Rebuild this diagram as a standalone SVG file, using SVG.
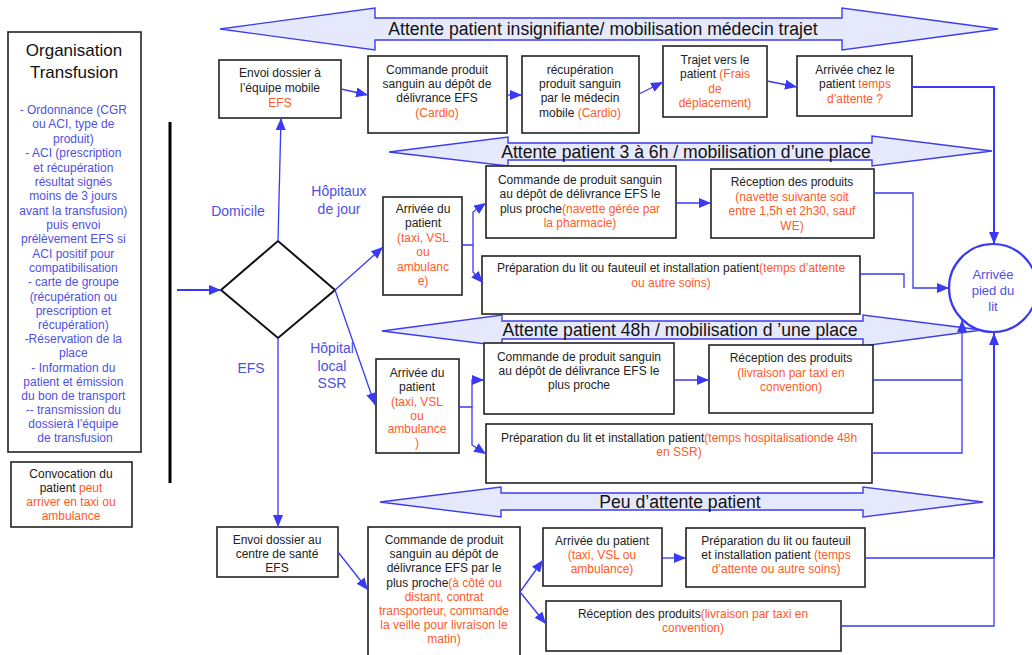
<svg xmlns="http://www.w3.org/2000/svg" width="1032" height="655" viewBox="0 0 1032 655">
<defs>
<style>
.t{font-family:"Liberation Sans",Arial,sans-serif;font-size:12px;fill:#222;text-anchor:middle}
.o{fill:#ff5a28}
.b{fill:#5050e0}
.lbl{font-family:"Liberation Sans",Arial,sans-serif;font-size:14px;fill:#5050e0;text-anchor:middle}
.ttl{font-family:"Liberation Sans",Arial,sans-serif;font-size:17px;fill:#111;text-anchor:middle}
.ban{font-family:"Liberation Sans",Arial,sans-serif;font-size:17.6px;fill:#111;text-anchor:middle}
.box{fill:#fff;stroke:#222;stroke-width:1.6}
.banner{fill:#e6e9fb;stroke:#3c3cf0;stroke-width:1.4}
.c{fill:none;stroke:#3a3af5;stroke-width:1.3}
.c2{fill:none;stroke:#3a3af5;stroke-width:2}
</style>
<marker id="ah" viewBox="0 0 12 10" refX="12" refY="5" markerWidth="12" markerHeight="10" markerUnits="userSpaceOnUse" orient="auto">
<path d="M0,0 L12,5 L0,10 z" fill="#3a3af5"/>
</marker>
</defs>
<rect width="1032" height="655" fill="#fff"/>

<g id="banners">
<path class="banner" d="M220,29 L375,8 L375,18 L842,18 L842,8 L998,29 L842,50 L842,40 L375,40 L375,50 Z"/>
<text class="ban" x="603" y="35">Attente patient insignifiante/ mobilisation médecin trajet</text>
<path class="banner" d="M389,152 L508,137 L508,143 L872,143 L872,136 L992,151 L872,166 L872,160 L508,160 L508,166 Z"/>
<text class="ban" x="686" y="158">Attente patient 3 à 6h / mobilisation d’une place</text>
<path class="banner" d="M382,331 L502,315 L502,321 L863,321 L863,315 L982,330 L863,346 L863,339 L502,339 L502,346 Z"/>
<text class="ban" x="680" y="336">Attente patient 48h / mobilisation d ’une place</text>
<path class="banner" d="M380,502 L501,487 L501,493 L863,493 L863,487 L983,502 L863,517 L863,510 L501,510 L501,517 Z"/>
<text class="ban" x="680" y="508">Peu d’attente patient</text>
</g>

<g id="organisation">
<rect class="box" x="8" y="32" width="133" height="420"/>
<text class="ttl" x="74" y="56">Organisation</text>
<text class="ttl" x="74" y="78">Transfusion</text>
<text class="t b" x="75">
<tspan x="75" y="114">- Ordonnance (CGR</tspan>
<tspan x="75" y="128">ou ACI, type de</tspan>
<tspan x="75" y="143">produit)</tspan>
<tspan x="75" y="157">- ACI (prescription</tspan>
<tspan x="75" y="172">et récupération</tspan>
<tspan x="75" y="186">résultat signés</tspan>
<tspan x="75" y="200">moins de 3 jours</tspan>
<tspan x="75" y="215">avant la transfusion)</tspan>
<tspan x="75" y="229">puis envoi</tspan>
<tspan x="75" y="243">prélèvement EFS si</tspan>
<tspan x="75" y="258">ACI positif pour</tspan>
<tspan x="75" y="272">compatibilisation</tspan>
<tspan x="75" y="286">- carte de groupe</tspan>
<tspan x="75" y="301">(récupération ou</tspan>
<tspan x="75" y="315">prescription et</tspan>
<tspan x="75" y="329">récupération)</tspan>
<tspan x="75" y="343">-Réservation de la</tspan>
<tspan x="75" y="357">place</tspan>
<tspan x="75" y="372">- Information du</tspan>
<tspan x="75" y="386">patient et émission</tspan>
<tspan x="75" y="400">du bon de transport</tspan>
<tspan x="75" y="414">-- transmission du</tspan>
<tspan x="75" y="428">dossierà l’équipe</tspan>
<tspan x="75" y="442">de transfusion</tspan>
</text>
</g>

<g id="convocation">
<rect class="box" x="11" y="462" width="121" height="65"/>
<text class="t"><tspan x="71" y="478">Convocation du</tspan><tspan x="71" y="492">patient <tspan class="o">peut</tspan></tspan><tspan class="o" x="71" y="506">arriver en taxi ou</tspan><tspan class="o" x="71" y="520">ambulance</tspan></text>
</g>

<g id="separator"><line x1="170" y1="122" x2="170" y2="483" stroke="#000" stroke-width="3"/></g>

<g id="decision">
<path d="M221,290 L278,241 L335,290 L278,338 Z" fill="#fff" stroke="#111" stroke-width="2"/>
</g>

<g id="labels">
<text class="lbl" x="238" y="216">Domicile</text>
<text class="lbl"><tspan x="339" y="196">Hôpitaux</tspan><tspan x="339" y="214">de jour</tspan></text>
<text class="lbl" x="251" y="373">EFS</text>
<text class="lbl"><tspan x="332" y="353">Hôpital</tspan><tspan x="332" y="371">local</tspan><tspan x="332" y="388">SSR</tspan></text>
</g>

<g id="arrivee-pied-lit">
<circle cx="993" cy="288" r="44" fill="#fff" stroke="#3a3af5" stroke-width="2.2"/>
<text class="t b" style="font-size:13px"><tspan x="993" y="279">Arrivée</tspan><tspan x="993" y="295">pied du</tspan><tspan x="993" y="311">lit</tspan></text>
</g>

<g id="dom-envoi">
<rect class="box" x="219" y="60" width="122" height="58"/>
<text class="t"><tspan x="280" y="77">Envoi dossier à</tspan><tspan x="280" y="92">l’équipe mobile</tspan><tspan class="o" x="280" y="107">EFS</tspan></text>
</g>
<g id="dom-commande">
<rect class="box" x="368" y="56" width="139" height="77"/>
<text class="t"><tspan x="437" y="74">Commande produit</tspan><tspan x="437" y="88">sanguin au dépôt de</tspan><tspan x="437" y="102">délivrance EFS</tspan><tspan class="o" x="437" y="117">(Cardio)</tspan></text>
</g>
<g id="dom-recuperation">
<rect class="box" x="522" y="56" width="117" height="77"/>
<text class="t"><tspan x="580" y="74">récupération</tspan><tspan x="580" y="88">produit sanguin</tspan><tspan x="580" y="102">par le médecin</tspan><tspan x="580" y="117">mobile <tspan class="o">(Cardio)</tspan></tspan></text>
</g>
<g id="dom-trajet">
<rect class="box" x="663" y="46" width="104" height="71"/>
<text class="t"><tspan x="715" y="64">Trajet vers le</tspan><tspan x="715" y="78">patient <tspan class="o">(Frais</tspan></tspan><tspan class="o" x="715" y="93">de</tspan><tspan class="o" x="715" y="107">déplacement)</tspan></text>
</g>
<g id="dom-arrivee">
<rect class="box" x="797" y="56" width="115" height="60"/>
<text class="t"><tspan x="855" y="74">Arrivée chez le</tspan><tspan x="855" y="88">patient <tspan class="o">temps</tspan></tspan><tspan class="o" x="855" y="103">d’attente ?</tspan></text>
</g>

<g id="hj-arrivee">
<rect class="box" x="383" y="197" width="79" height="98"/>
<text class="t"><tspan x="423" y="213">Arrivée du</tspan><tspan x="423" y="227">patient</tspan><tspan class="o" x="423" y="242">(taxi, VSL</tspan><tspan class="o" x="423" y="256">ou</tspan><tspan class="o" x="423" y="271">ambulanc</tspan><tspan class="o" x="423" y="285">e)</tspan></text>
</g>
<g id="hj-commande">
<rect class="box" x="486" y="166" width="190" height="72"/>
<text class="t"><tspan x="580" y="184">Commande de produit sanguin</tspan><tspan x="580" y="198">au dépôt de délivrance EFS le</tspan><tspan x="580" y="213">plus proche<tspan class="o">(navette gérée par</tspan></tspan><tspan class="o" x="580" y="227">la pharmacie)</tspan></text>
</g>
<g id="hj-reception">
<rect class="box" x="711" y="169" width="163" height="69"/>
<text class="t"><tspan x="792" y="186">Réception des produits</tspan><tspan class="o" x="792" y="201">(navette suivante soit</tspan><tspan class="o" x="792" y="215">entre 1,5h et 2h30, sauf</tspan><tspan class="o" x="792" y="230">WE)</tspan></text>
</g>
<g id="hj-preparation">
<rect class="box" x="482" y="256" width="378" height="58"/>
<text class="t"><tspan x="671" y="272">Préparation du lit ou fauteuil et installation patient<tspan class="o">(temps d’attente</tspan></tspan><tspan class="o" x="671" y="287">ou autre soins)</tspan></text>
</g>

<g id="ssr-arrivee">
<rect class="box" x="376" y="359" width="83" height="94"/>
<text class="t"><tspan x="417" y="377">Arrivée du</tspan><tspan x="417" y="391">patient</tspan><tspan class="o" x="417" y="406">(taxi, VSL</tspan><tspan class="o" x="417" y="420">ou</tspan><tspan class="o" x="417" y="433">ambulance</tspan><tspan class="o" x="417" y="447">)</tspan></text>
</g>
<g id="ssr-commande">
<rect class="box" x="484" y="343" width="190" height="71"/>
<text class="t"><tspan x="579" y="361">Commande de produit sanguin</tspan><tspan x="579" y="375">au dépôt de délivrance EFS le</tspan><tspan x="579" y="389">plus proche</tspan></text>
</g>
<g id="ssr-reception">
<rect class="box" x="709" y="345" width="164" height="68"/>
<text class="t"><tspan x="791" y="362">Réception des produits</tspan><tspan class="o" x="791" y="377">(livraison par taxi en</tspan><tspan class="o" x="791" y="391">convention)</tspan></text>
</g>
<g id="ssr-preparation">
<rect class="box" x="486" y="424" width="386" height="59"/>
<text class="t"><tspan x="679" y="442">Préparation du lit et installation patient<tspan class="o">(temps hospitalisationde 48h</tspan></tspan><tspan class="o" x="679" y="456">en  SSR)</tspan></text>
</g>

<g id="efs-envoi">
<rect class="box" x="217" y="527" width="121" height="50"/>
<text class="t"><tspan x="277" y="544">Envoi dossier au</tspan><tspan x="277" y="558">centre de santé</tspan><tspan x="277" y="572">EFS</tspan></text>
</g>
<g id="efs-commande">
<rect class="box" x="368" y="527" width="152" height="135"/>
<text class="t"><tspan x="444" y="544">Commande de produit</tspan><tspan x="444" y="558">sanguin au dépôt de</tspan><tspan x="444" y="572">délivrance EFS par le</tspan><tspan x="444" y="587">plus proche<tspan class="o">(à côté ou</tspan></tspan><tspan class="o" x="444" y="601">distant, contrat</tspan><tspan class="o" x="444" y="615">transporteur, commande</tspan><tspan class="o" x="444" y="629">la veille pour livraison le</tspan><tspan class="o" x="444" y="643">matin)</tspan></text>
</g>
<g id="efs-arrivee">
<rect class="box" x="543" y="528" width="119" height="58"/>
<text class="t"><tspan x="602" y="545">Arrivée du patient</tspan><tspan class="o" x="602" y="559">(taxi, VSL ou</tspan><tspan class="o" x="602" y="573">ambulance)</tspan></text>
</g>
<g id="efs-preparation">
<rect class="box" x="686" y="528" width="179" height="59"/>
<text class="t"><tspan x="776" y="545">Préparation du lit ou fauteuil</tspan><tspan x="776" y="559">et installation patient <tspan class="o">(temps</tspan></tspan><tspan class="o" x="776" y="573">d’attente ou autre soins)</tspan></text>
</g>
<g id="efs-reception">
<rect class="box" x="546" y="601" width="295" height="50"/>
<text class="t"><tspan x="693" y="618">Réception des produits<tspan class="o">(livraison par taxi en</tspan></tspan><tspan class="o" x="693" y="632">convention)</tspan></text>
</g>

<g id="connectors">
<path class="c2" d="M177,290 L221,290" marker-end="url(#ah)"/>
<path class="c" d="M278,241 L281,118" marker-end="url(#ah)"/>
<path class="c" d="M341,89 L368,95" marker-end="url(#ah)"/>
<path class="c" d="M507,95 L522,95" marker-end="url(#ah)"/>
<path class="c" d="M639,94 L663,82" marker-end="url(#ah)"/>
<path class="c" d="M767,81 L797,87" marker-end="url(#ah)"/>
<path class="c2" d="M912,87 L994,87 L994,244" marker-end="url(#ah)"/>
<path class="c" d="M335,290 L383,247" marker-end="url(#ah)"/>
<path class="c" d="M335,290 L375,405" marker-end="url(#ah)"/>
<path class="c" d="M278,338 L278,527" marker-end="url(#ah)"/>
<path class="c" d="M462,245 L473,245 L473,212 L486,203" marker-end="url(#ah)"/>
<path class="c" d="M473,245 L473,272 L483,283" marker-end="url(#ah)"/>
<path class="c" d="M676,203 L711,203" marker-end="url(#ah)"/>
<path class="c" d="M874,193 L913,193 L913,288 L949,288" marker-end="url(#ah)"/>
<path class="c" d="M860,274 L904,274 L904,288"/>
<path class="c" d="M459,407 L472,407 L472,380 L484,380" marker-end="url(#ah)"/>
<path class="c" d="M472,407 L472,445 L486,454" marker-end="url(#ah)"/>
<path class="c" d="M674,380 L709,380" marker-end="url(#ah)"/>
<path class="c" d="M873,380 L962,380"/>
<path class="c" d="M872,453 L962,453 L962,320" marker-end="url(#ah)"/>
<path class="c" d="M338,552 L368,590" marker-end="url(#ah)"/>
<path class="c" d="M520,592 L543,560" marker-end="url(#ah)"/>
<path class="c" d="M520,592 L546,624" marker-end="url(#ah)"/>
<path class="c" d="M662,558 L686,558" marker-end="url(#ah)"/>
<path class="c" d="M865,558 L994,558"/>
<path class="c" d="M841,626 L994,626 L994,558"/>
<path class="c2" d="M994,558 L994,333" marker-end="url(#ah)"/>
</g>
</svg>
